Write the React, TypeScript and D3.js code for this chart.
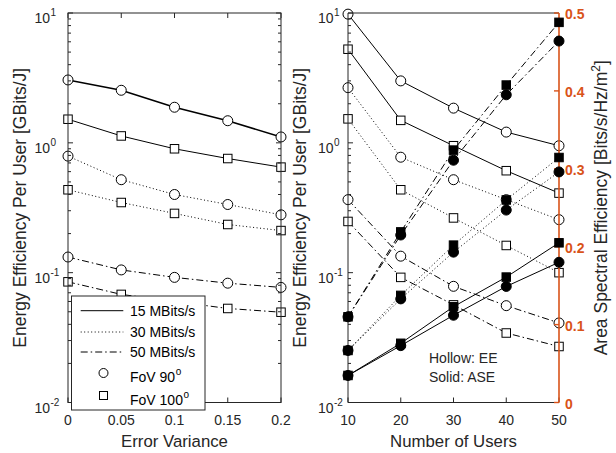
import React from 'react';
import * as d3 from 'd3';

// ---------- data ----------
const errorVariance = [0, 0.05, 0.1, 0.15, 0.2];
const evEE15fov90 = [3.05, 2.54, 1.88, 1.48, 1.11];
const evEE15fov100 = [1.52, 1.13, 0.9, 0.757, 0.65];
const evEE30fov90 = [0.79, 0.52, 0.4, 0.335, 0.279];
const evEE30fov100 = [0.435, 0.347, 0.286, 0.235, 0.211];
const evEE50fov90 = [0.132, 0.105, 0.092, 0.083, 0.077];
const evEE50fov100 = [0.085, 0.068, 0.06, 0.053, 0.0496];

const users = [10, 20, 30, 40, 50];
const uEE15fov90 = [9.8, 3.0, 1.85, 1.21, 0.95];
const uEE15fov100 = [5.26, 1.49, 0.95, 0.61, 0.41];
const uEE30fov90 = [2.66, 0.775, 0.52, 0.365, 0.256];
const uEE30fov100 = [1.53, 0.435, 0.264, 0.162, 0.1];
const uEE50fov90 = [0.365, 0.134, 0.0785, 0.0557, 0.041];
const uEE50fov100 = [0.248, 0.092, 0.0565, 0.0343, 0.027];
const uASE15fov90 = [0.0347, 0.073, 0.112, 0.149, 0.18];
const uASE15fov100 = [0.0347, 0.076, 0.123, 0.161, 0.205];
const uASE30fov90 = [0.0668, 0.133, 0.193, 0.247, 0.296];
const uASE30fov100 = [0.0668, 0.1375, 0.202, 0.26, 0.3145];
const uASE50fov90 = [0.11, 0.215, 0.311, 0.395, 0.464];
const uASE50fov100 = [0.11, 0.219, 0.324, 0.4075, 0.488];

const leftXTicks = [0, 0.05, 0.1, 0.15, 0.2];
const leftXTickLabels = ['0', '0.05', '0.1', '0.15', '0.2'];
const rightXTicks = [10, 20, 30, 40, 50];
const logExps = [1, 0, -1, -2];
const aseTicks = [0, 0.1, 0.2, 0.3, 0.4, 0.5];
const aseTickLabels = ['0', '0.1', '0.2', '0.3', '0.4', '0.5'];
const rateLabels = ['15 MBits/s', '30 MBits/s', '50 MBits/s'];
const fovLabels = ['FoV 90', 'FoV 100'];

// ---------- styles ----------
const FONT = "'Liberation Sans', Arial, Helvetica, sans-serif";
const AX = '#262626';
const ORANGE = '#D95319';
const DASH: Record<string, string | undefined> = {
  solid: undefined,
  dot: '1 2.5',
  dashdot: '7 3 1.5 3',
};

const TOP = 13;
const BOT = 402.5;
const YLABEL_FS = 17.5;
const XLABEL_FS = 16.8;

const minorVals: number[] = [];
for (let e = -2; e <= 0; e++) for (let k = 2; k <= 9; k++) minorVals.push(k * Math.pow(10, e));

type Series = { x: number[]; y: number[]; dash: string; marker: 'circle' | 'square'; filled: boolean; width?: number };

function Marker({ cx, cy, kind, filled }: { cx: number; cy: number; kind: string; filled: boolean }) {
  const fill = filled ? '#000' : '#fff';
  if (kind === 'circle') return <circle cx={cx} cy={cy} r={5} fill={fill} stroke="#000" strokeWidth={1} />;
  const s = 8.5;
  return <rect x={cx - s / 2} y={cy - s / 2} width={s} height={s} fill={fill} stroke="#000" strokeWidth={1} />;
}

function SeriesPlot({ s, xs, ys }: { s: Series; xs: (v: number) => number; ys: (v: number) => number }) {
  const pts: [number, number][] = s.x.map((xv, i) => [xs(xv), ys(s.y[i])]);
  const line = d3.line()(pts) || '';
  return (
    <g>
      <path d={line} fill="none" stroke="#000" strokeWidth={s.width ?? 1} strokeDasharray={DASH[s.dash]} />
      {pts.map((p, i) => (
        <Marker key={i} cx={p[0]} cy={p[1]} kind={s.marker} filled={s.filled} />
      ))}
    </g>
  );
}

function LogTickLabel({ endX, y, exp }: { endX: number; y: number; exp: number }) {
  return (
    <g fontFamily={FONT} fill={AX}>
      <text x={endX} y={y + 10} fontSize={14} textAnchor="end">10</text>
      <text x={endX + 0.5} y={y + 3} fontSize={10} textAnchor="start">{String(exp)}</text>
    </g>
  );
}

export default function App() {
  const lx = d3.scaleLinear().domain([0, 0.2]).range([68, 281]);
  const ly = d3.scaleLog().domain([0.01, 10]).range([BOT, TOP]);
  const rx = d3.scaleLinear().domain([10, 50]).range([348, 559]);
  const ry = d3.scaleLog().domain([0.01, 10]).range([BOT, TOP]);
  const ra = d3.scaleLinear().domain([0, 0.5]).range([BOT, TOP]);

  const leftSeries: Series[] = [
    { x: errorVariance, y: evEE15fov90, dash: 'solid', marker: 'circle', filled: false, width: 1.6 },
    { x: errorVariance, y: evEE15fov100, dash: 'solid', marker: 'square', filled: false },
    { x: errorVariance, y: evEE30fov90, dash: 'dot', marker: 'circle', filled: false },
    { x: errorVariance, y: evEE30fov100, dash: 'dot', marker: 'square', filled: false },
    { x: errorVariance, y: evEE50fov90, dash: 'dashdot', marker: 'circle', filled: false },
    { x: errorVariance, y: evEE50fov100, dash: 'dashdot', marker: 'square', filled: false },
  ];
  const rightEE: Series[] = [
    { x: users, y: uEE15fov90, dash: 'solid', marker: 'circle', filled: false },
    { x: users, y: uEE15fov100, dash: 'solid', marker: 'square', filled: false },
    { x: users, y: uEE30fov90, dash: 'dot', marker: 'circle', filled: false },
    { x: users, y: uEE30fov100, dash: 'dot', marker: 'square', filled: false },
    { x: users, y: uEE50fov90, dash: 'dashdot', marker: 'circle', filled: false },
    { x: users, y: uEE50fov100, dash: 'dashdot', marker: 'square', filled: false },
  ];
  const rightASE: Series[] = [
    { x: users, y: uASE15fov90, dash: 'solid', marker: 'circle', filled: true },
    { x: users, y: uASE15fov100, dash: 'solid', marker: 'square', filled: true },
    { x: users, y: uASE30fov90, dash: 'dot', marker: 'circle', filled: true },
    { x: users, y: uASE30fov100, dash: 'dot', marker: 'square', filled: true },
    { x: users, y: uASE50fov90, dash: 'dashdot', marker: 'circle', filled: true },
    { x: users, y: uASE50fov100, dash: 'dashdot', marker: 'square', filled: true },
  ];

  const L0 = lx.range()[0], L1 = lx.range()[1];
  const R0 = rx.range()[0], R1 = rx.range()[1];
  const MAJ = 5, MIN = 3;

  const lgX = 71.5, lgY = 296, lgW = 133.5, lgH = 114;
  const lgRows = [310.7, 332, 352, 373, 395.5];

  return (
    <svg width={616} height={453} style={{ position: 'absolute', left: 0, top: 0, background: '#fff' }} fontFamily={FONT}>
      <rect x={0} y={0} width={616} height={453} fill="#fff" />
      {/* ================= LEFT PANEL ================= */}
      <g>
        {leftSeries.map((s, i) => (
          <SeriesPlot key={i} s={s} xs={lx} ys={ly} />
        ))}
        <rect x={L0} y={TOP} width={L1 - L0} height={BOT - TOP} fill="none" stroke={AX} strokeWidth={1} />
        {leftXTicks.map((t, i) => (
          <g key={i}>
            <line x1={lx(t)} x2={lx(t)} y1={BOT} y2={BOT - MAJ} stroke={AX} />
            <line x1={lx(t)} x2={lx(t)} y1={TOP} y2={TOP + MAJ} stroke={AX} />
            <text x={lx(t)} y={BOT + 22.5} fontSize={14} textAnchor="middle" fill={AX}>
              {leftXTickLabels[i]}
            </text>
          </g>
        ))}
        {logExps.map((e) => {
          const y = ly(Math.pow(10, e));
          return (
            <g key={e}>
              <line x1={L0} x2={L0 + MAJ} y1={y} y2={y} stroke={AX} />
              <line x1={L1} x2={L1 - MAJ} y1={y} y2={y} stroke={AX} />
              <LogTickLabel endX={L0 - 18} y={y} exp={e} />
            </g>
          );
        })}
        {minorVals.map((v, i) => (
          <g key={i}>
            <line x1={L0} x2={L0 + MIN} y1={ly(v)} y2={ly(v)} stroke={AX} />
            <line x1={L1} x2={L1 - MIN} y1={ly(v)} y2={ly(v)} stroke={AX} />
          </g>
        ))}
        <text x={(L0 + L1) / 2} y={447} fontSize={XLABEL_FS} textAnchor="middle" fill={AX}>
          Error Variance
        </text>
        <text transform={`translate(25.5,${(TOP + BOT) / 2}) rotate(-90)`} fontSize={YLABEL_FS} textAnchor="middle" fill={AX}>
          Energy Efficiency Per User [GBits/J]
        </text>
        {/* legend */}
        <rect x={lgX} y={lgY} width={lgW} height={lgH} fill="#fff" stroke={AX} strokeWidth={1} />
        {rateLabels.map((lab, i) => (
          <g key={lab}>
            <line x1={80.7} x2={123.3} y1={lgRows[i]} y2={lgRows[i]} stroke="#000" strokeDasharray={DASH[['solid', 'dot', 'dashdot'][i]]} />
            <text x={130} y={lgRows[i] + 5} fontSize={14} fill="#000">{lab}</text>
          </g>
        ))}
        {fovLabels.map((lab, i) => {
          const y = lgRows[3 + i];
          return (
            <g key={lab}>
              {i === 0 ? (
                <circle cx={103.5} cy={y} r={4.5} fill="#fff" stroke="#000" />
              ) : (
                <rect x={99.5} y={y - 4} width={8} height={8} fill="#fff" stroke="#000" />
              )}
              <text x={130} y={y + 9} fontSize={14} fill="#000">
                {lab}
                <tspan fontSize={10} dx={0.5} dy={-7}>o</tspan>
              </text>
            </g>
          );
        })}
      </g>

      {/* ================= RIGHT PANEL ================= */}
      <g>
        {rightEE.map((s, i) => (
          <SeriesPlot key={i} s={s} xs={rx} ys={ry} />
        ))}
        <line x1={R0} x2={R1} y1={TOP} y2={TOP} stroke={AX} />
        <line x1={R0} x2={R1} y1={BOT} y2={BOT} stroke={AX} />
        <line x1={R0} x2={R0} y1={TOP} y2={BOT} stroke={AX} />
        {rightXTicks.map((t) => (
          <g key={t}>
            <line x1={rx(t)} x2={rx(t)} y1={BOT} y2={BOT - MAJ} stroke={AX} />
            <text x={rx(t)} y={BOT + 22.5} fontSize={14} textAnchor="middle" fill={AX}>
              {t}
            </text>
          </g>
        ))}
        {logExps.map((e) => {
          const y = ry(Math.pow(10, e));
          return (
            <g key={e}>
              <line x1={R0} x2={R0 + MAJ} y1={y} y2={y} stroke={AX} />
              <LogTickLabel endX={R0 - 14.5} y={y} exp={e} />
            </g>
          );
        })}
        {minorVals.map((v, i) => (
          <line key={i} x1={R0} x2={R0 + MIN} y1={ry(v)} y2={ry(v)} stroke={AX} />
        ))}
        <line x1={R1} x2={R1} y1={TOP} y2={BOT} stroke={ORANGE} strokeWidth={1.6} />
        {aseTicks.map((t, i) => (
          <g key={t}>
            <line x1={R1} x2={R1 - MAJ} y1={ra(t)} y2={ra(t)} stroke={ORANGE} strokeWidth={1.4} />
            <text x={R1 + 6} y={ra(t) + 6} fontSize={14} fontWeight="bold" fill={ORANGE}>
              {aseTickLabels[i]}
            </text>
          </g>
        ))}
        {rightASE.map((s, i) => (
          <SeriesPlot key={i} s={s} xs={rx} ys={ra} />
        ))}
        <text x={429} y={363} fontSize={14} fill={AX}>Hollow: EE</text>
        <text x={429} y={382} fontSize={14} fill={AX}>Solid: ASE</text>
        <text x={(R0 + R1) / 2} y={447} fontSize={XLABEL_FS} textAnchor="middle" fill={AX}>
          Number of Users
        </text>
        <text transform={`translate(306,${(TOP + BOT) / 2}) rotate(-90)`} fontSize={YLABEL_FS} textAnchor="middle" fill={AX}>
          Energy Efficiency Per User [GBits/J]
        </text>
        <text transform={`translate(607,${(TOP + BOT) / 2}) rotate(-90)`} fontSize={YLABEL_FS} textAnchor="middle" fill={AX}>
          Area Spectral Efficiency [Bits/s/Hz/m
          <tspan fontSize={12} dy={-7}>2</tspan>
          <tspan dy={7}>]</tspan>
        </text>
      </g>
    </svg>
  );
}
